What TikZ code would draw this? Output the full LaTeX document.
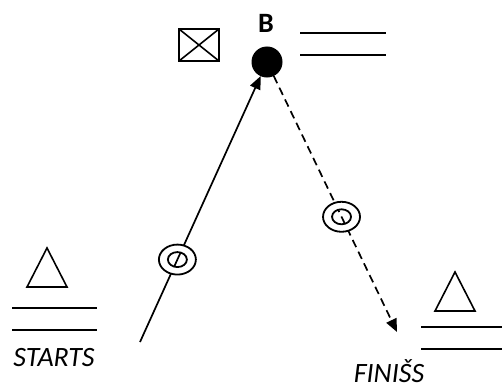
\documentclass[tikz,border=0pt]{standalone}
\usepackage{fontspec}
\setmainfont{Carlito}
\usetikzlibrary{arrows.meta,calc}
\tikzstyle{point}=[circle,fill=black,draw,line width=1pt,minimum size=30pt,inner sep=0pt]
\tikzstyle{bigtext}=[font=\fontsize{28}{34}\selectfont,inner sep=0pt]
\tikzstyle{edge} = [draw,line width=1.7pt,-{Triangle[length=13pt,width=11pt]}]
\tikzstyle{dashededge} = [edge,dash pattern=on 8pt off 5pt]
\tikzstyle{plainline} = [draw,line width=1.6pt]

\begin{document}
\begin{tikzpicture}[x=1pt,y=-1pt]
\useasboundingbox (0,0) rectangle (502,388);

    \node[point] (B) at (267,62) {};
    \node[bigtext,font=\fontsize{28}{34}\selectfont\bfseries] (Blabel) at (266,23) {B};
    \node[bigtext,font=\fontsize{28}{34}\selectfont\itshape] (startlabel) at (54,358) {STARTS};
    \node[bigtext,font=\fontsize{28}{34}\selectfont\itshape] (finislabel) at (389,371) {FINIŠS};

    \coordinate (starts) at (140,342);
    \coordinate (finiss) at (397,332);

    % the two legs, with the points where the rings sit
    \path[edge] (starts) -- coordinate[pos=0.31] (ringA) (B);
    \path[dashededge] (B) -- coordinate[pos=0.55] (ringB) (finiss);

    \foreach \ring in {ringA, ringB}
    {
        \fill[white,even odd rule] (\ring) ellipse [x radius=18.5pt, y radius=15pt]
                                   (\ring) ellipse [x radius=9.5pt, y radius=7.5pt];
        \draw[line width=1.8pt] (\ring) ellipse [x radius=18.5pt, y radius=15pt];
        \draw[line width=1.8pt] (\ring) ellipse [x radius=9.5pt, y radius=7.5pt];
    }

    % crossed box next to B
    \draw[plainline] (179,29) rectangle (219,61);
    \draw[plainline] (179,29) -- (219,61) (179,61) -- (219,29);

    % double lines
    \foreach \x/\y/\len in {300/33/86, 300/55/86, 12/308/85, 12/330/85, 421/327/81, 421/349/81}
        \draw[plainline] (\x,\y) -- ++(\len,0);

    % triangles
    \foreach \x/\y in {47/248, 455/272}
        \draw[plainline,line join=miter] (\x,\y) -- ++(-20,39) -- ++(40,0) -- cycle;

\end{tikzpicture}
\end{document}
